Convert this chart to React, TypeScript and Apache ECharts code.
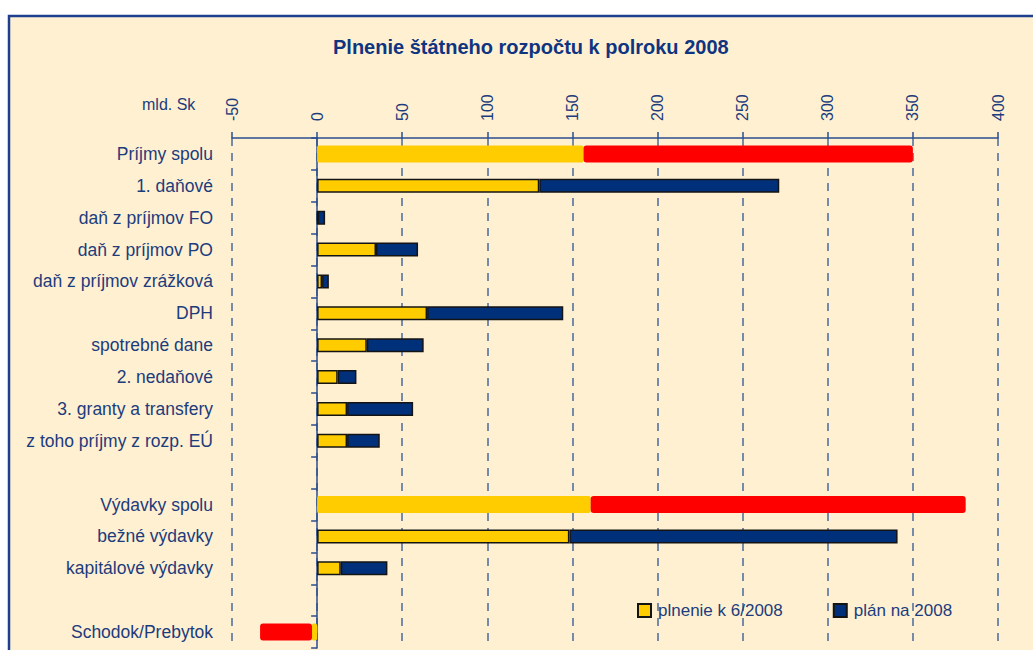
import React, { useEffect, useRef } from "react";
import * as echarts from "echarts";

const categories = [
  "Príjmy spolu",
  "1. daňové",
  "daň z príjmov FO",
  "daň z príjmov PO",
  "daň z príjmov zrážková",
  "DPH",
  "spotrebné dane",
  "2. nedaňové",
  "3. granty a transfery",
  "z toho príjmy z rozp. EÚ",
  " ",
  "Výdavky spolu",
  "bežné výdavky",
  "kapitálové výdavky",
  "  ",
  "Schodok/Prebytok",
];

// plnenie k 6/2008 (mld. Sk)
const plnenie = [156.5, 130.5, 0.3, 34.6, 2.9, 64.6, 29.2, 12.1, 17.6, 17.6, null, 160.7, 148.2, 13.9, null, -3.0];
// plán na 2008 (mld. Sk)
const plan = [350.0, 271.5, 4.7, 59.3, 6.9, 144.6, 62.6, 23.1, 56.4, 36.8, null, 381.0, 341.0, 41.3, null, -33.5];
// rows drawn as summary bars (yellow + red)
const isTotal = [true, false, false, false, false, false, false, false, false, false, false, true, false, false, false, true];

const xTicks = { min: -50, max: 400, interval: 50 };

const TEXT = "#1C3C7C";
const NAVY = "#00307A";
const YELLOW = "#FFCC00";
const RED = "#FF0000";
const BG = "#FFF0D2";

export default function App() {
  const ref = useRef<HTMLDivElement>(null);
  useEffect(() => {
    if (!ref.current) return;
    const chart = echarts.init(ref.current, null, { renderer: "svg" });

    const rest = plan.map((p, i) => (p == null || plnenie[i] == null ? null : +(p - (plnenie[i] as number)).toFixed(2)));
    const detYellow = plnenie.map((v, i) => (isTotal[i] || v == null ? "-" : v));
    const detNavy = rest.map((v, i) => (isTotal[i] || v == null ? "-" : v));
    const totYellow = plnenie.map((v, i) => (!isTotal[i] || v == null ? "-" : v));
    const totRed = rest.map((v, i) => (!isTotal[i] || v == null ? "-" : v));

    chart.setOption({
      animation: false,
      backgroundColor: "#ffffff",
      textStyle: { fontFamily: "'Liberation Sans', Arial, sans-serif" },
      graphic: {
        elements: [
          {
            type: "rect",
            z: -10,
            silent: true,
            shape: { x: 9, y: 16, width: 1100, height: 700 },
            style: { fill: BG, stroke: "#1E3E8E", lineWidth: 2.5 },
          },
          {
            type: "text",
            x: 142,
            y: 96,
            style: {
              text: "mld. Sk",
              fill: TEXT,
              font: "16px 'Liberation Sans', Arial",
            },
          },
        ],
      },
      title: {
        text: "Plnenie štátneho rozpočtu k polroku 2008",
        left: 328,
        top: 32,
        textStyle: {
          color: "#0F3580",
          fontSize: 20,
          fontWeight: "bold",
          fontFamily: "'Liberation Sans', Arial",
        },
      },
      legend: {
        data: ["plnenie k 6/2008", "plán na 2008"],
        left: 632,
        top: 597,
        itemWidth: 13,
        itemHeight: 13,
        itemGap: 50,
        icon: "rect",
        textStyle: { color: TEXT, fontSize: 17, padding: [0, 0, 0, 2] },
      },
      grid: { left: 232, right: 35, top: 138, bottom: 2, containLabel: false, outerBoundsMode: "none" },
      xAxis: {
        type: "value",
        position: "top",
        min: xTicks.min,
        max: xTicks.max,
        interval: xTicks.interval,
        axisLine: { show: true, lineStyle: { color: "#2A4F8F", width: 1.5 } },
        axisTick: { show: true, length: 6, lineStyle: { color: "#2A4F8F", width: 1.5 } },
        axisLabel: { rotate: -90, margin: 17, fontSize: 16, color: TEXT },
        splitLine: {
          show: true,
          lineStyle: { color: "#4A6A9C", width: 1.5, type: [8, 7] },
        },
      },
      yAxis: [
        {
          type: "category",
          inverse: true,
          data: categories,
          axisLine: { show: true, onZero: true, lineStyle: { color: "#2A4F8F", width: 1.5 } },
          axisTick: { show: true, length: 6, lineStyle: { color: "#2A4F8F", width: 1.5 } },
          axisLabel: { margin: 19, fontSize: 17.5, color: TEXT, interval: 0 },
          splitLine: { show: false },
        },
        {
          type: "category",
          inverse: true,
          data: categories,
          show: false,
        },
      ],
      series: [
        {
          name: "plnenie k 6/2008",
          type: "bar",
          yAxisIndex: 0,
          stack: "det",
          barWidth: 14,
          data: detYellow,
          itemStyle: { color: YELLOW, borderColor: "#141414", borderWidth: 1.5 },
          z: 3,
        },
        {
          name: "plán na 2008",
          type: "bar",
          yAxisIndex: 0,
          stack: "det",
          barWidth: 14,
          data: detNavy,
          itemStyle: { color: NAVY, borderColor: "#141414", borderWidth: 1.5 },
          z: 3,
        },
        {
          name: "spolu plnenie",
          type: "bar",
          yAxisIndex: 1,
          stack: "tot",
          barWidth: 17,
          data: totYellow,
          itemStyle: { color: YELLOW, borderRadius: 2 },
          z: 3,
        },
        {
          name: "spolu plán",
          type: "bar",
          yAxisIndex: 1,
          stack: "tot",
          barWidth: 17,
          data: totRed,
          itemStyle: { color: RED, borderRadius: 3 },
          z: 3,
        },
      ],
    });
    return () => chart.dispose();
  }, []);

  return (
    <div
      ref={ref}
      style={{ position: "fixed", left: 0, top: 0, width: 1033, height: 650 }}
    />
  );
}
